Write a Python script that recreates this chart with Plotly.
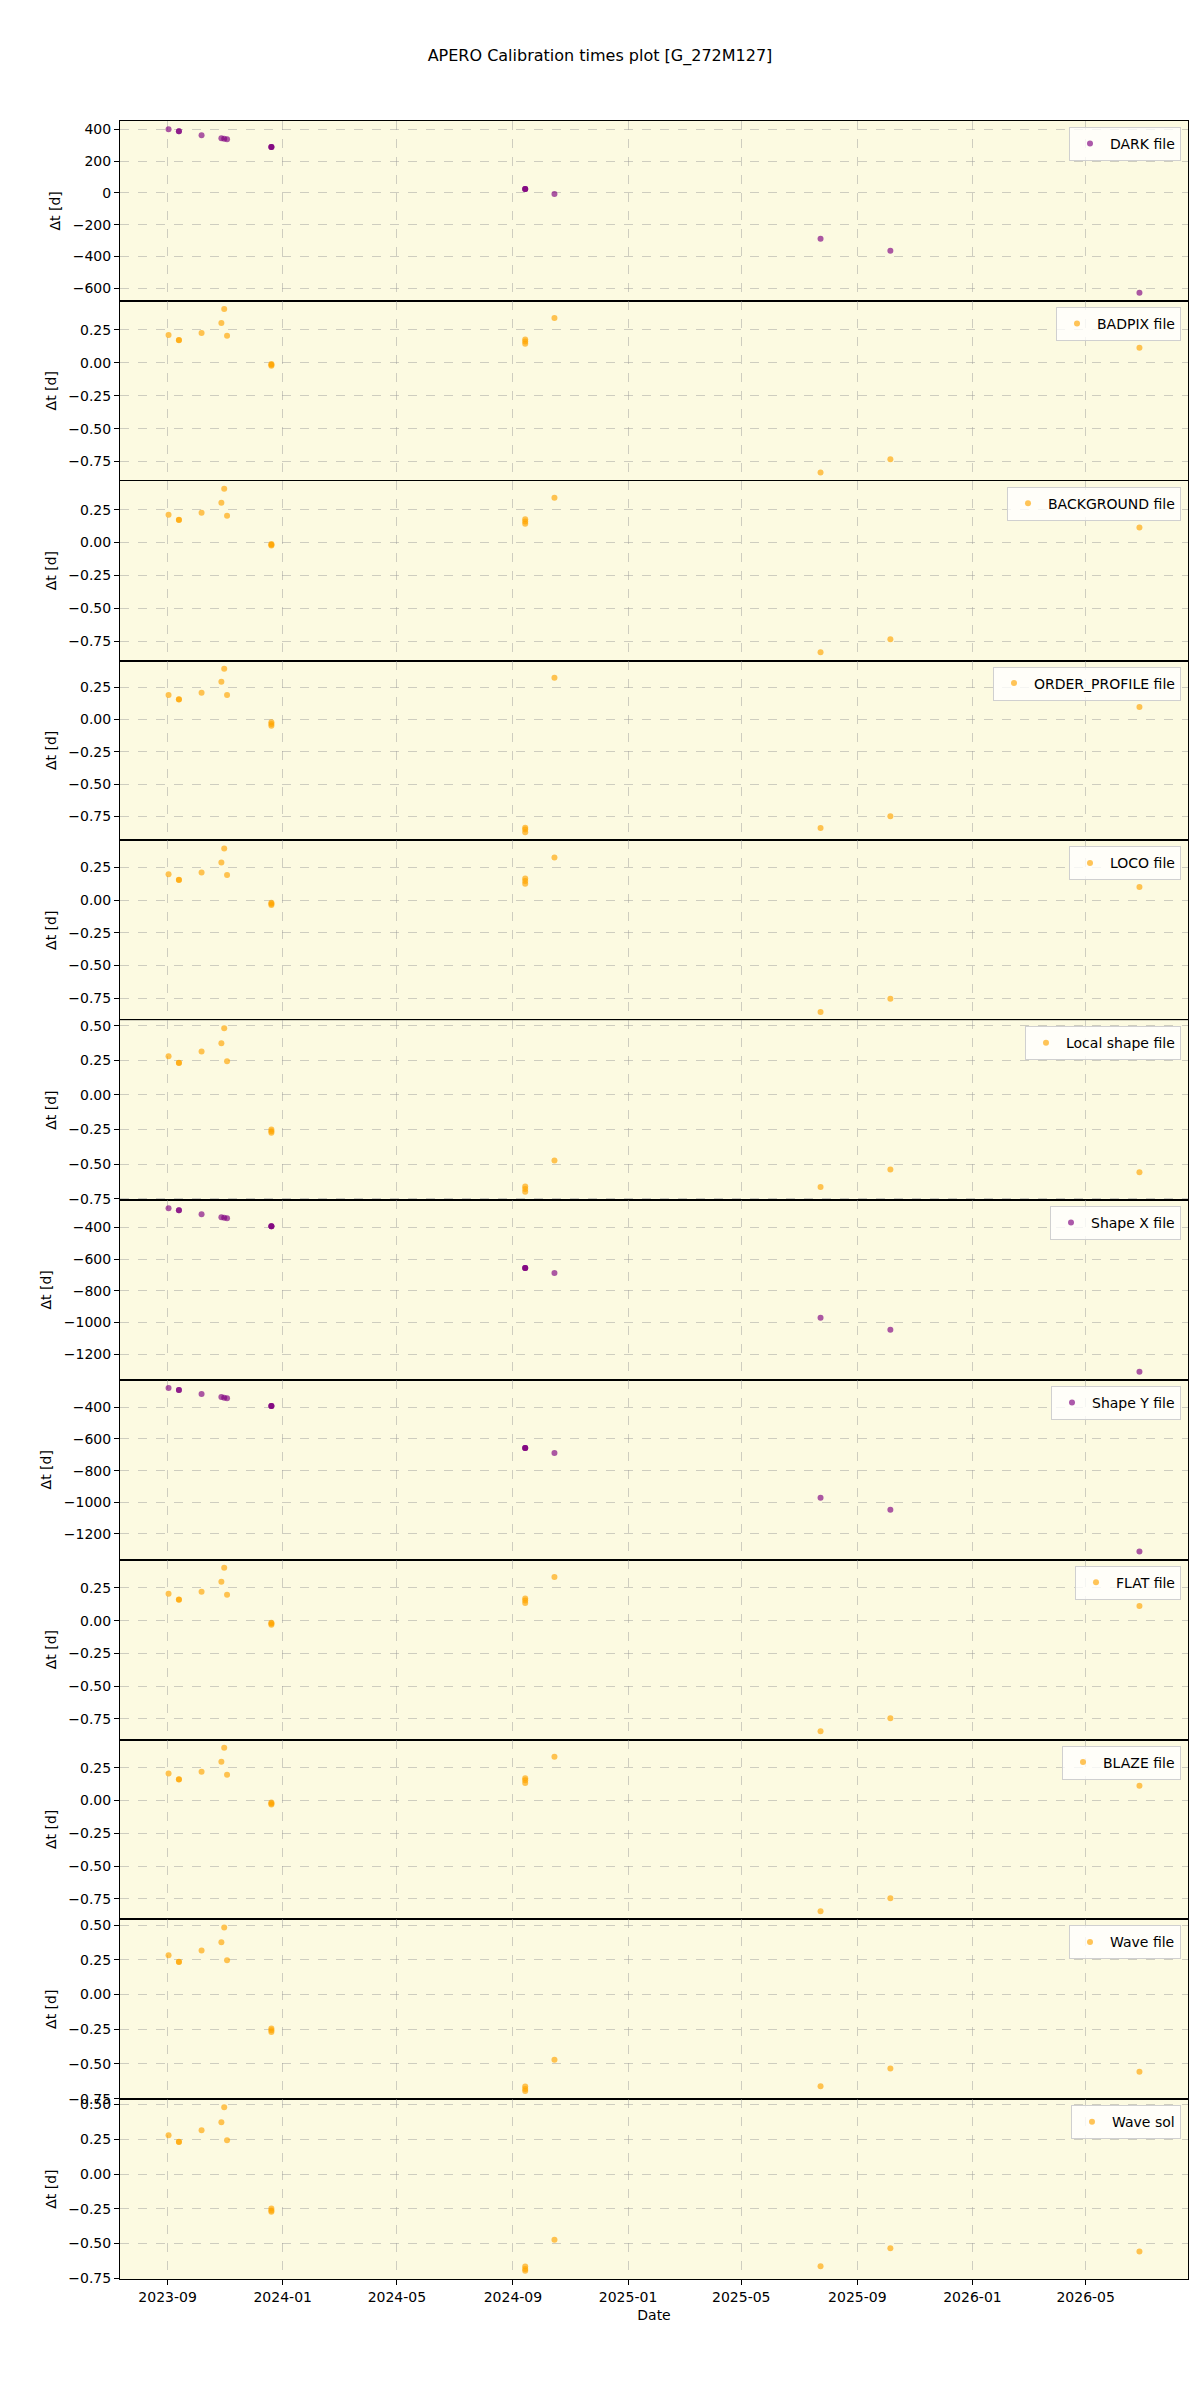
import pandas as pd
import plotly.graph_objects as go
from plotly.subplots import make_subplots

# ---------------- data ----------------
dates = ["2023-09-02", "2023-09-13", "2023-09-13", "2023-10-07", "2023-10-28",
         "2023-10-31", "2023-11-03", "2023-12-20", "2023-12-20", "2023-12-20",
         "2024-09-14", "2024-09-14", "2024-09-14", "2024-10-15", "2025-07-24",
         "2025-10-06", "2026-06-27"]

dark = [401.7, 389, 389, 364, 345, 341, 338, 288.7, 288.7, 288.7,
        25, 25, 25, -6.3, -288.7, -364, -627.6]
badpix = [0.212, 0.174, 0.172, 0.227, 0.303, 0.409, 0.205, -0.008, -0.015, -0.022,
          0.178, 0.162, 0.145, 0.341, -0.833, -0.733, 0.115]
background = [0.212, 0.174, 0.172, 0.227, 0.303, 0.409, 0.205, -0.010, -0.016, -0.022,
              0.177, 0.160, 0.144, 0.341, -0.835, -0.735, 0.114]
order_profile = [0.191, 0.158, 0.156, 0.207, 0.293, 0.394, 0.191, -0.021, -0.035, -0.048,
                 -0.838, -0.851, -0.872, 0.324, -0.840, -0.748, 0.098]
loco = [0.198, 0.155, 0.153, 0.211, 0.287, 0.394, 0.191, -0.021, -0.029, -0.037,
        0.164, 0.146, 0.125, 0.326, -0.855, -0.754, 0.100]
local_shape = [0.279, 0.233, 0.231, 0.314, 0.373, 0.481, 0.244, -0.249, -0.262, -0.274,
               -0.662, -0.680, -0.700, -0.474, -0.665, -0.538, -0.558]
shape_x = [-278, -290.8, -290.8, -316, -335, -339, -342, -391.6, -391.6, -391.6,
           -656.2, -656.2, -656.2, -687.7, -971, -1046.7, -1311]
shape_y = [-278, -290.5, -290.5, -315.8, -334.7, -339, -342, -391.6, -391.6, -391.6,
           -656.8, -656.8, -656.8, -688.4, -971, -1046.7, -1311]
flat = [0.206, 0.163, 0.161, 0.221, 0.297, 0.404, 0.198, -0.015, -0.022, -0.030,
        0.170, 0.155, 0.135, 0.335, -0.845, -0.746, 0.113]
blaze = [0.206, 0.163, 0.161, 0.221, 0.297, 0.404, 0.198, -0.015, -0.022, -0.030,
         0.170, 0.155, 0.135, 0.335, -0.845, -0.746, 0.113]
wave_file = [0.282, 0.235, 0.233, 0.317, 0.375, 0.482, 0.246, -0.246, -0.258, -0.270,
             -0.663, -0.680, -0.695, -0.470, -0.661, -0.533, -0.556]
wave_sol = [0.279, 0.233, 0.231, 0.315, 0.372, 0.480, 0.243, -0.248, -0.262, -0.272,
            -0.666, -0.683, -0.697, -0.473, -0.664, -0.535, -0.558]

labels = ["DARK file", "BADPIX file", "BACKGROUND file", "ORDER_PROFILE file",
          "LOCO file", "Local shape file", "Shape X file", "Shape Y file",
          "FLAT file", "BLAZE file", "Wave file", "Wave sol"]
series = [dark, badpix, background, order_profile, loco, local_shape,
          shape_x, shape_y, flat, blaze, wave_file, wave_sol]
kinds = ["p", "o", "o", "o", "o", "o", "p", "p", "o", "o", "o", "o"]

# ---------------- styling ----------------
PURPLE = "rgba(128,0,128,0.65)"
ORANGE = "rgba(255,165,0,0.65)"
FONT = "DejaVu Sans"
W, H = 1200, 2400
ML, MR, MT, MB = 120, 12, 121, 121
PW, PH = W - ML - MR, H - MT - MB
N = len(labels)
panel_h = PH / N

fig = make_subplots(rows=N, cols=1, shared_xaxes=True, vertical_spacing=0)

xs = pd.to_datetime(dates)
span = xs.max() - xs.min()
xr = [(xs.min() - span * 0.05).strftime("%Y-%m-%d %H:%M"),
      (xs.max() + span * 0.05).strftime("%Y-%m-%d %H:%M")]

for i, (lab, vals, k) in enumerate(zip(labels, series, kinds)):
    leg = "legend" if i == 0 else f"legend{i + 1}"
    fig.add_trace(go.Scatter(
        x=dates, y=vals, mode="markers", name=lab,
        marker=dict(color=PURPLE if k == "p" else ORANGE, size=6, line=dict(width=0)),
        legend=leg, showlegend=True,
    ), row=i + 1, col=1)

    vmin, vmax = min(vals), max(vals)
    m = (vmax - vmin) * 0.05
    yax = dict(
        range=[vmin - m, vmax + m],
        showline=True, linecolor="black", linewidth=1, mirror=True,
        ticks="outside", ticklen=5, tickcolor="black",
        showgrid=True, gridcolor="rgba(150,150,150,0.45)", griddash="dash", gridwidth=1,
        zeroline=False,
        tickfont=dict(family=FONT, size=14, color="black"),
        title=dict(text="Δt [d]", font=dict(family=FONT, size=14, color="black"), standoff=8),
    )
    if k == "p":
        yax.update(dtick=200, tick0=0)
    else:
        yax.update(dtick=0.25, tick0=0, tickformat=".2f")
    fig.update_yaxes(**yax, row=i + 1, col=1)

    bottom = (i == N - 1)
    fig.update_xaxes(
        range=xr, type="date",
        tick0="2023-09-01", dtick="M4", tickformat="%Y-%m",
        showline=True, linecolor="black", linewidth=1, mirror=True,
        showgrid=True, gridcolor="rgba(150,150,150,0.45)", griddash="dash", gridwidth=1,
        zeroline=False,
        ticks="outside" if bottom else "", ticklen=5, tickcolor="black",
        showticklabels=bottom,
        tickfont=dict(family=FONT, size=14, color="black"),
        row=i + 1, col=1,
    )

    fig.update_layout({leg: dict(
        x=1 - 7 / PW, xanchor="right",
        y=1 - (i * panel_h + 6) / PH, yanchor="top",
        bgcolor="rgba(255,255,255,0.8)", bordercolor="#d0d0d0", borderwidth=1,
        font=dict(family=FONT, size=14, color="black"),
        itemwidth=30,
    )})

fig.update_xaxes(title=dict(text="Date", font=dict(family=FONT, size=14, color="black"), standoff=6),
                 row=N, col=1)

fig.update_layout(
    width=W, height=H,
    margin=dict(l=ML, r=MR, t=MT, b=MB),
    paper_bgcolor="white", plot_bgcolor="#fcfae1",
    title=dict(text="APERO Calibration times plot [G_272M127]",
               x=0.5, xref="container", xanchor="center",
               y=1 - 55 / H, yref="container", yanchor="middle",
               font=dict(family=FONT, size=16, color="black")),
    font=dict(family=FONT, size=14, color="black"),
)

fig.write_html("out.html")
